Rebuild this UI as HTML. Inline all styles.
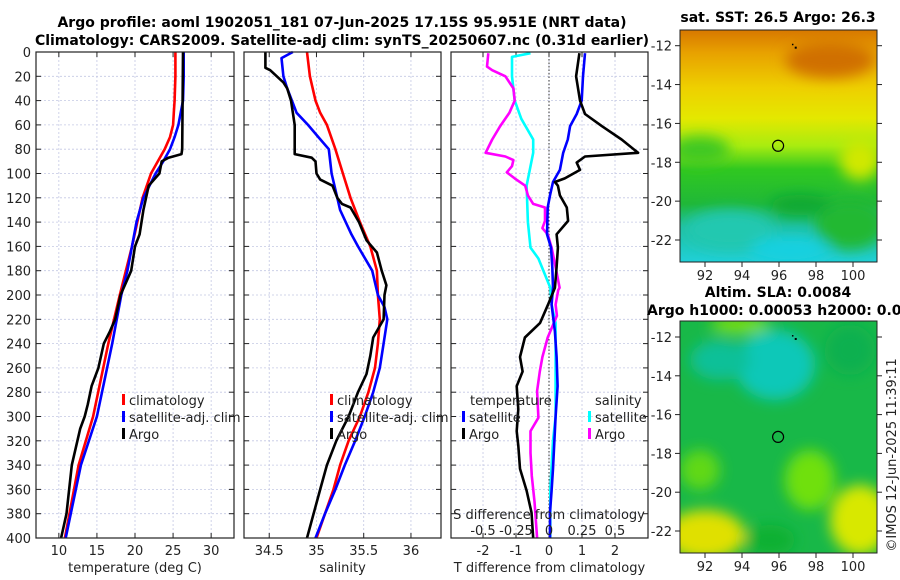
<!DOCTYPE html>
<html><head><meta charset="utf-8">
<style>
html,body{margin:0;padding:0;background:#fff;}
svg{display:block;font-family:"DejaVu Sans","Liberation Sans",sans-serif;}
.t{font-size:13px;fill:#222;}
.b{font-size:14px;font-weight:bold;fill:#000;}
</style></head>
<body>
<svg id="fig" width="900" height="580" viewBox="0 0 900 580" xmlns="http://www.w3.org/2000/svg">
<defs>
<filter id="blur6" x="-30%" y="-30%" width="160%" height="160%"><feGaussianBlur stdDeviation="7"/></filter>
<clipPath id="clipTop"><rect x="680" y="30" width="197" height="232"/></clipPath>
<clipPath id="clipBot"><rect x="680" y="321" width="197" height="232"/></clipPath>
<linearGradient id="sstGrad" x1="0" y1="0" x2="0" y2="1">
<stop offset="0" stop-color="#d87800"/><stop offset="0.1" stop-color="#e8a200"/>
<stop offset="0.25" stop-color="#eed000"/><stop offset="0.38" stop-color="#e4e800"/>
<stop offset="0.5" stop-color="#a8ec10"/><stop offset="0.6" stop-color="#30c820"/>
<stop offset="0.75" stop-color="#20b838"/><stop offset="0.85" stop-color="#20c0a0"/>
<stop offset="1" stop-color="#20d0d8"/></linearGradient>
</defs>
<text class="b" x="342" y="27" text-anchor="middle">Argo profile: aoml 1902051_181 07-Jun-2025 17.15S 95.951E (NRT data)</text>
<text class="b" x="342" y="45" text-anchor="middle">Climatology: CARS2009. Satellite-adj clim: synTS_20250607.nc (0.31d earlier)</text>
<g id="panels"></g>
<g id="maps">
<text class="b" x="778" y="22" text-anchor="middle">sat. SST: 26.5 Argo: 26.3</text>
<g clip-path="url(#clipTop)">
<rect x="680" y="30" width="197" height="232" fill="url(#sstGrad)"/>
<g filter="url(#blur6)">
<ellipse cx="830" cy="60" rx="45" ry="18" fill="#d07000"/>
<ellipse cx="700" cy="150" rx="30" ry="14" fill="#40c820"/>
<ellipse cx="860" cy="160" rx="20" ry="20" fill="#d0e800"/>
<ellipse cx="730" cy="230" rx="45" ry="20" fill="#20c8b0"/>
<ellipse cx="790" cy="250" rx="40" ry="14" fill="#18d0e0"/>
<ellipse cx="850" cy="225" rx="35" ry="25" fill="#20b830"/>
<ellipse cx="800" cy="205" rx="30" ry="10" fill="#10a830"/>
</g>
</g>
<rect x="680" y="30" width="197" height="232" fill="none" stroke="#222" stroke-width="1"/>
<text class="b" x="778" y="297" text-anchor="middle">Altim. SLA: 0.0084</text>
<text class="b" x="647" y="315">Argo h1000: 0.00053 h2000: 0.004</text>
<g clip-path="url(#clipBot)">
<rect x="680" y="321" width="197" height="232" fill="#18b848"/>
<g filter="url(#blur6)">
<ellipse cx="775" cy="365" rx="40" ry="35" fill="#10c8b8"/>
<ellipse cx="720" cy="360" rx="30" ry="20" fill="#10c098"/>
<ellipse cx="850" cy="350" rx="25" ry="25" fill="#10b050"/>
<ellipse cx="705" cy="535" rx="40" ry="25" fill="#e0e000"/>
<ellipse cx="860" cy="520" rx="30" ry="35" fill="#d8e800"/>
<ellipse cx="810" cy="480" rx="25" ry="30" fill="#70e010"/>
<ellipse cx="700" cy="470" rx="20" ry="20" fill="#60d818"/>
<ellipse cx="770" cy="540" rx="25" ry="15" fill="#10b030"/>
<ellipse cx="740" cy="325" rx="30" ry="8" fill="#80e010"/>
</g>
</g>
<rect x="680" y="321" width="197" height="232" fill="none" stroke="#222" stroke-width="1"/>
<g id="mapAxes"></g>
<text class="t" transform="translate(896,455) rotate(-90)" text-anchor="middle">©IMOS 12-Jun-2025 11:39:11</text>
</g>
</svg>
<script>
// ---- data ----
const tDepth=[0,20,40,50,60,70,80,90,100,120,140,160,180,200,240,300,340,400];
const tClim=[25.3,25.3,25.2,25.1,25.0,24.6,23.9,23.0,22.1,21.0,20.3,19.6,18.8,18.0,16.5,14.5,12.6,10.8];
const tSat=[26.4,26.4,26.3,26.0,25.7,25.2,24.6,23.7,22.7,21.1,20.2,19.6,19.0,18.2,17.0,15.0,12.9,10.9];
const tArgoDepth=[0,80,84,87,90,100,105,110,130,150,160,180,200,220,230,240,260,275,290,300,310,340,380,400];
const tArgo=[26.3,26.2,26.1,24.4,23.5,23.2,22.5,21.8,21.1,20.6,20.0,19.5,18.1,17.4,16.7,15.9,15.2,14.3,13.8,13.4,12.8,11.7,11.0,10.3];
const sClimDepth=[0,20,40,50,60,80,100,120,140,160,180,200,220,240,260,280,300,320,340,360,380,400];
const sClim=[34.9,34.93,34.99,35.04,35.11,35.2,35.28,35.36,35.46,35.57,35.64,35.65,35.67,35.65,35.62,35.55,35.46,35.34,35.25,35.18,35.09,35.0];
const sSatDepth=[0,5,20,30,40,50,60,70,80,100,120,130,150,160,180,200,210,220,240,260,280,300,320,340,360,380,400];
const sSat=[34.75,34.63,34.65,34.69,34.74,34.79,34.91,35.02,35.13,35.16,35.22,35.25,35.37,35.44,35.59,35.65,35.72,35.75,35.71,35.67,35.6,35.51,35.41,35.3,35.2,35.09,34.99];
const sArgoDepth=[0,13,15,20,25,30,40,60,84,87,90,100,105,110,120,125,128,140,155,165,180,192,200,220,235,250,265,280,300,320,340,360,380,400];
const sArgo=[34.46,34.46,34.51,34.58,34.65,34.69,34.73,34.77,34.77,34.95,34.99,35.0,35.04,35.17,35.22,35.27,35.36,35.45,35.53,35.64,35.69,35.74,35.72,35.71,35.6,35.57,35.53,35.44,35.34,35.21,35.11,35.04,34.97,34.9];
const dtArgoDepth=[1,20,40,51,61,72,83,86,91,97,104,107,110,118,128,139,150,161,177,194,208,223,235,251,263,275,294,312,324,343,361,379,400];
const dtArgo=[0.92,0.82,0.94,1.09,1.6,2.2,2.7,1.09,0.84,0.94,0.48,0.18,0.27,0.33,0.54,0.58,0.23,0.27,0.23,0.18,-0.03,-0.27,-0.73,-0.88,-0.8,-0.98,-0.93,-0.98,-0.93,-0.88,-0.68,-0.53,-0.48];
const dtSatDepth=[1,20,40,51,61,72,83,97,107,118,128,150,161,177,194,208,230,251,275,300,343,361,379,400];
const dtSat=[1.09,1.03,0.99,0.84,0.64,0.57,0.43,0.33,0.12,0.03,-0.04,-0.06,0.06,0.1,0.12,0.08,0.18,0.23,0.26,0.2,0.12,0.08,0.03,0.03];
const dsArgoDepth=[1,12,15,20,30,40,50,61,72,83,86,89,94,99,104,110,118,125,128,139,145,150,161,177,194,196,208,217,235,251,263,279,301,312,330,349,370,400];
const dsArgo=[-0.46,-0.47,-0.43,-0.33,-0.27,-0.26,-0.3,-0.37,-0.43,-0.48,-0.33,-0.27,-0.28,-0.32,-0.26,-0.18,-0.16,-0.12,-0.03,-0.03,-0.05,-0.01,0.02,0.05,0.08,0.07,0.05,0.06,-0.01,-0.05,-0.07,-0.09,-0.08,-0.14,-0.14,-0.13,-0.11,-0.09];
const dsSatDepth=[1,4,20,40,55,72,83,94,110,140,161,170,194,208,223,240,270,300,320,360,400];
const dsSat=[-0.14,-0.28,-0.28,-0.26,-0.21,-0.12,-0.12,-0.14,-0.17,-0.16,-0.14,-0.08,0.01,0.02,0.05,0.05,0.05,0.05,0.03,0.01,0.01];
const depthTicks=[0,20,40,60,80,100,120,140,160,180,200,220,240,260,280,300,320,340,360,380,400];
const tTicks=[10,15,20,25,30];
const sTicks=[34.5,35,35.5,36];
const dtTicks=[-2,-1,0,1,2];
const dsTicks=[-0.5,-0.25,0,0.25,0.5];
const lonTicks=[92,94,96,98,100];
const latTicks=[-12,-14,-16,-18,-20,-22];
const argoLon=95.951, argoLat=-17.15;

const NS='http://www.w3.org/2000/svg';
function mk(tag,attrs,parent){const e=document.createElementNS(NS,tag);for(const k in attrs)e.setAttribute(k,attrs[k]);parent.appendChild(e);return e;}
const PT=52,PB=538;
const yD=d=>PT+(d/400)*(PB-PT);
const root=document.getElementById('panels');

function panel(name,x0,x1,xmin,xmax,ticks,fmt,xlabel){
  const g=mk('g',{},root);
  
  
  const xs=v=>x0+(v-xmin)/(xmax-xmin)*(x1-x0);
  ticks.forEach(v=>{const l=mk('line',{x1:xs(v),x2:xs(v),y1:PT,y2:PB,stroke:'#c4c8e4','stroke-width':0.8,'stroke-dasharray':'2,2'},g);});
  depthTicks.forEach(d=>{const l=mk('line',{x1:x0,x2:x1,y1:yD(d),y2:yD(d),stroke:'#c4c8e4','stroke-width':0.8,'stroke-dasharray':'2,2'},g);
    mk('line',{x1:x0,x2:x0+5,y1:yD(d),y2:yD(d),stroke:'#222'},g);mk('line',{x1:x1-5,x2:x1,y1:yD(d),y2:yD(d),stroke:'#222'},g);});
  ticks.forEach(v=>{mk('line',{x1:xs(v),x2:xs(v),y1:PB,y2:PB-5,stroke:'#222'},g);mk('line',{x1:xs(v),x2:xs(v),y1:PT,y2:PT+5,stroke:'#222'},g);
    const t=mk('text',{x:xs(v),y:PB+17,'text-anchor':'middle',class:'t'},g);t.textContent=fmt(v);});
  const xl=mk('text',{x:(x0+x1)/2,y:PB+34,'text-anchor':'middle',class:'t'},g);xl.textContent=xlabel;
  
  return {g,xs};
}
function line(p,depths,vals,color,name,scale){
  const pts=depths.map((d,i)=>p.xs(vals[i]*(scale||1)).toFixed(1)+','+yD(d).toFixed(1)).join(' ');
  const l=mk('polyline',{points:pts,fill:'none',stroke:color,'stroke-width':2.6,'stroke-linejoin':'round'},p.g);
  
}
function box(p,x0,x1){mk('rect',{x:x0,y:PT,width:x1-x0,height:PB-PT,fill:'none',stroke:'#222','stroke-width':1.2},p.g);}
function legendEntry(p,x,y,color,label){
  const g=mk('g',{},p.g);
  mk('rect',{x:x,y:y-11,width:3,height:11,fill:color},g);
  const t=mk('text',{x:x+7,y:y,class:'t'},g);t.textContent=label;
}

// panel 1
const p1=panel('temperature-panel',36,234,7,33,tTicks,v=>v,'temperature (deg C)');
depthTicks.forEach(d=>{const t=mk('text',{x:31,y:yD(d)+5,'text-anchor':'end',class:'t'},p1.g);t.textContent=d;});
line(p1,tDepth,tClim,'#ff0000','temp-climatology-line');
line(p1,tDepth,tSat,'#0000ff','temp-satellite-line');
line(p1,tArgoDepth,tArgo,'#000000','temp-argo-line');
box(p1,36,234);
legendEntry(p1,122,405,'#ff0000','climatology');
legendEntry(p1,122,422,'#0000ff','satellite-adj. clim');
legendEntry(p1,122,439,'#000000','Argo');

// panel 2
const p2=panel('salinity-panel',244,441,34.233,36.318,sTicks,v=>v,'salinity');
line(p2,sClimDepth,sClim,'#ff0000','sal-climatology-line');
line(p2,sSatDepth,sSat,'#0000ff','sal-satellite-line');
line(p2,sArgoDepth,sArgo,'#000000','sal-argo-line');
box(p2,244,441);
legendEntry(p2,330,405,'#ff0000','climatology');
legendEntry(p2,330,422,'#0000ff','satellite-adj. clim');
legendEntry(p2,330,439,'#000000','Argo');

// panel 3
const p3=panel('difference-panel',451,648,-2.97,3.0,dtTicks,v=>v,'T difference from climatology');
mk('line',{x1:p3.xs(0),x2:p3.xs(0),y1:PT,y2:PB,stroke:'#333','stroke-width':1,'stroke-dasharray':'1.5,2'},p3.g);
line(p3,dsSatDepth,dsSat,'#00ffff','sal-diff-satellite-line',4);
line(p3,dsArgoDepth,dsArgo,'#ff00ff','sal-diff-argo-line',4);
line(p3,dtSatDepth,dtSat,'#0000ff','temp-diff-satellite-line');
line(p3,dtArgoDepth,dtArgo,'#000000','temp-diff-argo-line');
box(p3,451,648);
{const t=mk('text',{x:470,y:405,class:'t'},p3.g);t.textContent='temperature';}
{const t=mk('text',{x:595,y:405,class:'t'},p3.g);t.textContent='salinity';}
legendEntry(p3,462,422,'#0000ff','satellite');
legendEntry(p3,462,439,'#000000','Argo');
legendEntry(p3,588,422,'#00ffff','satellite');
legendEntry(p3,588,439,'#ff00ff','Argo');
{const t=mk('text',{x:549,y:519,'text-anchor':'middle',class:'t'},p3.g);t.textContent='S difference from climatology';}
dsTicks.forEach(v=>{const t=mk('text',{x:p3.xs(v*4),y:535,'text-anchor':'middle',class:'t'},p3.g);t.textContent=v;});

// map axes
const ma=document.getElementById('mapAxes');
const lonX=v=>705+(v-92)*18.5;
function mapAxes(top,bot,lat12y,lat22y,name){
  const g=mk('g',{},ma);
  const ly=v=>lat12y+(v+12)/-10*(lat22y-lat12y);
  latTicks.forEach(v=>{mk('line',{x1:877,x2:882,y1:ly(v),y2:ly(v),stroke:'#222'},g);mk('line',{x1:675,x2:680,y1:ly(v),y2:ly(v),stroke:'#222'},g);
    const t=mk('text',{x:672,y:ly(v)+5,'text-anchor':'end',class:'t'},g);t.textContent=v;});
  lonTicks.forEach(v=>{mk('line',{x1:lonX(v),x2:lonX(v),y1:bot,y2:bot+5,stroke:'#222'},g);
    const t=mk('text',{x:lonX(v),y:bot+18,'text-anchor':'middle',class:'t'},g);t.textContent=v;});
  const c=mk('circle',{cx:lonX(argoLon),cy:ly(argoLat),r:5.5,fill:'none',stroke:'#000','stroke-width':1.2},g);
  
  mk('rect',{x:lonX(96.7),y:ly(-11.9),width:1.5,height:1.5,fill:'#000'},g);
  mk('rect',{x:lonX(96.85),y:ly(-12.05),width:2,height:2,fill:'#000'},g);
}
mapAxes(30,262,45.7,240,'sst-map-axes');
mapAxes(321,553,337,531,'sla-map-axes');
</script>
</body></html>
